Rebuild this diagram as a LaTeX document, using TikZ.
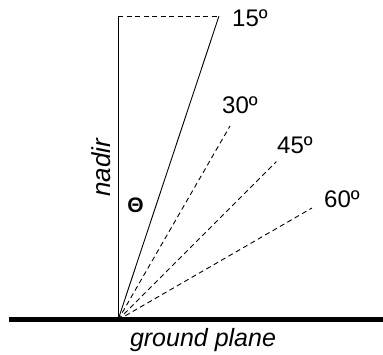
\documentclass[tikz,border=0pt]{standalone}
\usepackage{fontspec}
\setmainfont{Liberation Sans}
\usetikzlibrary{positioning, calc}
\def\rayLen{224}
\def\nadirLen{304}

\begin{document}
\begin{tikzpicture}[x=1pt, y=1pt,
    thinLine/.style  ={line width=0.9pt, black},
    dashLine/.style  ={line width=0.9pt, black, dash pattern=on 5pt off 3.5pt},
    groundLine/.style={line width=5pt, black},
    angleLabel/.style={font=\fontsize{24}{28}\selectfont, anchor=west, inner sep=0pt},
]
\useasboundingbox (0,0) rectangle (383,355);

% =====================================================
% Points
% =====================================================
\coordinate (o)     at (118,35);
\coordinate (top)   at (118,35+\nadirLen);
\coordinate (e15)   at (219,35+\nadirLen);
\coordinate (e30)   at ($(o)+(60:\rayLen)$);
\coordinate (e45)   at ($(o)+(45:\rayLen)$);
\coordinate (e60)   at ($(o)+(30:\rayLen)$);
\coordinate (gwest) at (9,35);
\coordinate (geast) at (383,35);

% =====================================================
% Ground, nadir and view rays
% =====================================================
\draw[groundLine] (gwest) -- (geast);
\draw[thinLine] (o) -- (top);
\draw[dashLine] (top) -- (e15);
\draw[thinLine] (o) -- (e15);
\draw[dashLine] (o) -- (e30);
\draw[dashLine] (o) -- (e45);
\draw[dashLine] (o) -- (e60);

% =====================================================
% Labels
% =====================================================
\node[angleLabel] (l15) at (232,337)   {15º};
\node[angleLabel] (l30) at (222,249.5) {30º};
\node[angleLabel] (l45) at (277,209.5) {45º};
\node[angleLabel] (l60) at (324,156)   {60º};
\node[font=\fontsize{26}{30}\selectfont\itshape, rotate=90, inner sep=0pt] (nadir) at (101,187) {nadir};
\node[font=\fontsize{21}{25}\selectfont\bfseries, inner sep=0pt] (theta) at (135.5,149.5) {Θ};
\node[font=\fontsize{25}{29}\selectfont\itshape, inner sep=0pt] (ground) at (203,15) {ground plane};

\end{tikzpicture}
\end{document}
